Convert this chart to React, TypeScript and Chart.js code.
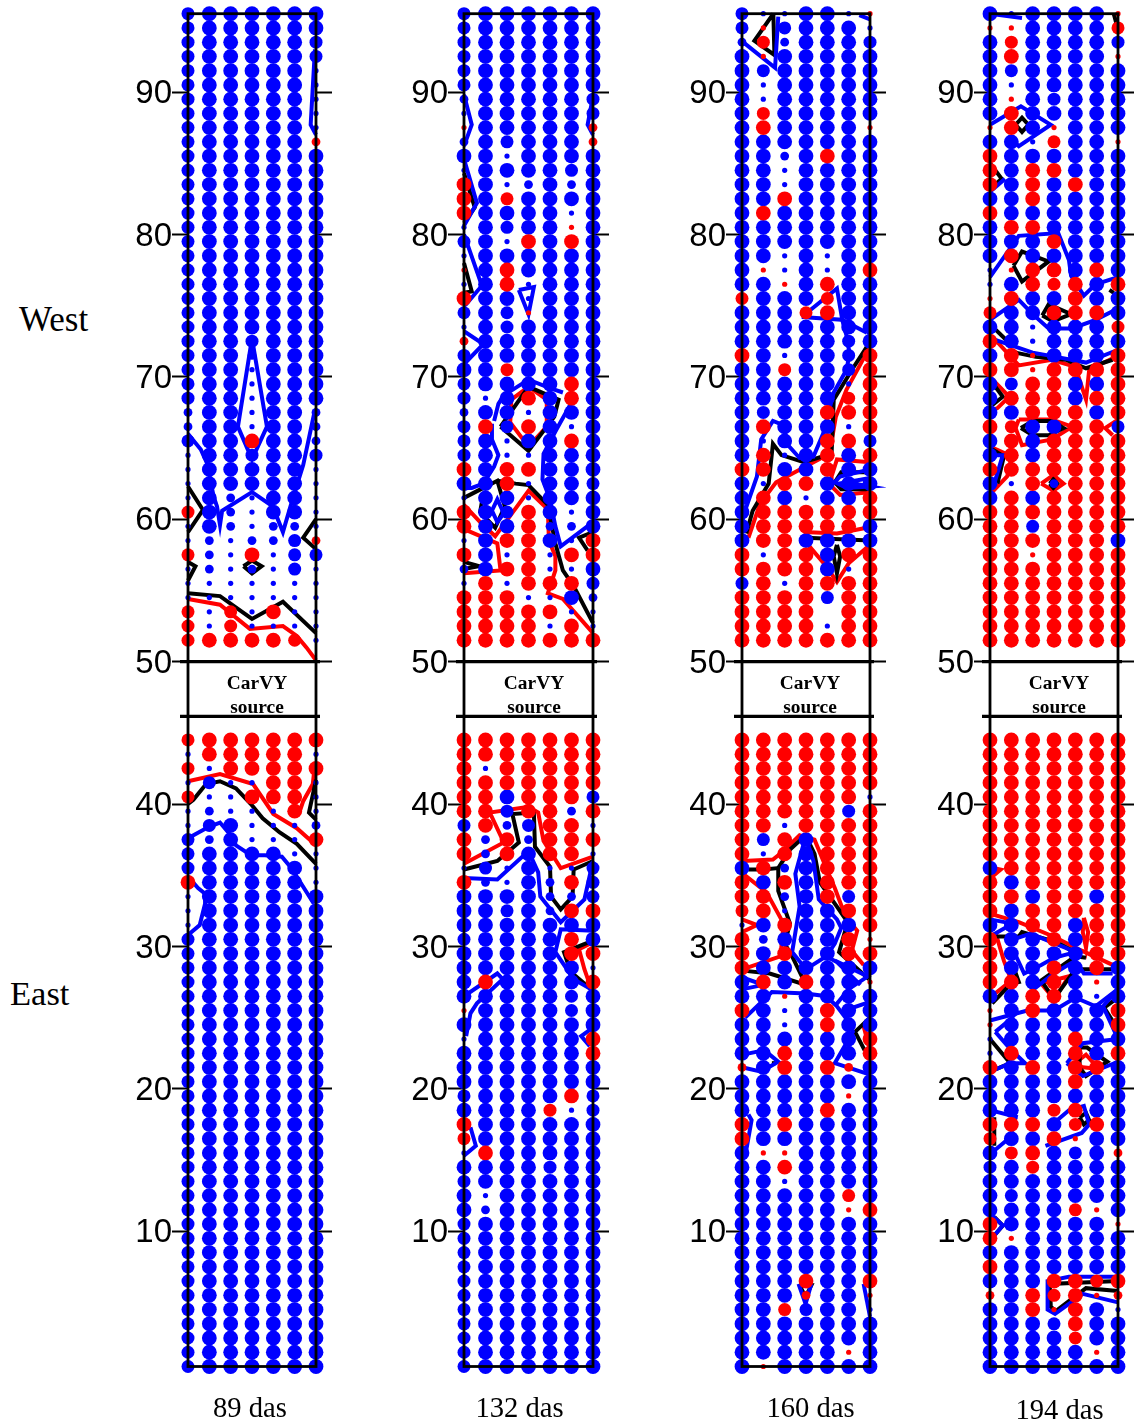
import React, { useEffect, useRef } from "react";
import { Chart, registerables } from "chart.js";

Chart.register(...registerables);

// Cell codes: a-d = blue (small to large), A-D = red (small to large), . = empty
const COLUMNS = [1, 2, 3, 4, 5, 6, 7];
const WEST_ROWS = Array.from({ length: 45 }, (_, i) => 95.5 - i);
const EAST_ROWS = Array.from({ length: 45 }, (_, i) => 44.5 - i);
const Y_TICKS = [10, 20, 30, 40, 50, 60, 70, 80, 90];
const SOURCE_LINES = [50, 46.15];

const P1_WEST = ["cdddddd","cdddddd","cdddddc","cdddddc","cddddda","cddddda","cddddda","cddddda","cddddda","cdddddB",
"cdddddd","cdddddd","cdddddd","cdddddd","cdddddd","cdddddd","cdddddd","cdddddd","cdddddd","cdddddd","cdddddd","cdddddd","cdddddd",
"cddcddd","cddbddd","cddaddd","cddaddd","cddaddd","bddaddb","bddaddb","cddDddb","addcddc","addddda","addddda","adbadda","Cdbadda","adbabba",
"ababbcB","CbaDacc","ababaca","aaaaaaa","aaaaaaa","CaCaDaa","CaCaaaa","CDDDDCa"];
const P1_EAST = ["CDDDDDD","aDDDDDa","CaDDDDD","acaaDDa","CaaDDDa","abaaaDa","acdaaab","cbdaaaD","cddddaa","cddddda","Dddddda","adddddd","adddddd","adddddd",
"cdddddd","cdddddd","cdddddd","cdddddd","cdddddd","cdddddd","cdddddd","cdddddd","cdddddd","cdddddd","cdddddd","cdddddd","cdddddd","cdddddd","cdddddd","cdddddd",
"cdddddd","cdddddd","cdddddd","cdddddd","cdddddd","cdddddd","cdddddd","cdddddd","cdddddd","cdddddd","cdddddd","cdddddd","cdddddd","cdddddd","cdddddd"];

const P2_WEST = ["cdddddd","cdddddd","cdddddd","cdddddd","cdddddd","cdddddd","bdddddc","adddddc","AdddddB","bdcdddB","ddadddd","addddcd","Ddabdbd","DdCdddd","Dddddad",
"adcddAd","cdaDdDd","adddddd","AdDdddd","adDaddd","Dddaddd","cdcAddd","adcdddd","Bdddddd","cdddddd","ddCdddd","cddddDd","cadDdDd","bddaddd","cDcDdad","cdaddDd","cdaaddd",
"DdDDddd","ddDaddc","addaddd","DdcDdad","DddDbbd","adDDdaD","DdaDaDD","bdDDaad","aDaDDDc","DDDaadb","DDDDDaa","DDDDaDa","DDDDDDD"];
const P2_EAST = ["DDDDDDD","DDDDDDD","DaDDDDD","DDDDDDD","DDdDDDc","DDcDDbD","cDbcDDa","DbDbDDD","DbDdDDa","acadaac","DbadbDc","ddddbbc","ddcdbDD","ddddddd","cddddDd","dddddDD",
"dddddda","dDddddD","dddddcd","Addddcd","ddddddd","adddddD","ddddddD","ddddddd","ddddddd","cddddDc","ddddCac","Ddddddd","Cdddddd","aDddddd","ddddcdd","cdddddd","daddddd","dbddddd",
"cdddddd","cdddddd","cdddddd","cdddddd","cdddddd","cdddddd","cdddddd","cdddddd","cdddddd","cdddddd","cdddddd"];

const P3_WEST = ["caaddaA","cAcddda","bCbdddc","dAddddd","dcddddd","daddddd","daddddd","dCddddd","dDddddA","ddddddd","ddbdDdd","ddadddd","ddadddd","ddDdddd","dDddddd","ddddddd","ddddddd",
"ddadadd","dAadadD","ddAdDdd","CdddCdd","dddCDdd","ddddddd","dddddcd","DdaddcD","ddCddcD","dddddaD","dddddCD","dcddDDD","dDdddaD","daddDDc","dDadDdD","DDddDdd","daDDddd","dDdaddD",
"dDDDDDD","dDDDDDd","dDDdddd","DaDDdDD","DDDDdaD","cDaDDDD","DDDDcDD","DDDD.DD","DDDDaDD","DDDDDDD"];
const P3_EAST = ["DDDDDDD","DDDDDDD","DDDDDDD","DDDDDDD","DDDDDDa","DDDDDcD","DDaDDDD","DcDdDDD","DaDdDDD","dDbdDDD","DdDdDDD","DDbdDcD","CDaddDD","adDdddD","DbdddDA","DdDddDD","Ddddddd",
"dDdDddA","ddAdddd","DdadDdd","ddadDdd","ddddddD","ddDdddD","BdDdDBd","ddddddd","dddddAd","ddddDdd","DdDdddd","Ddddddd","dAAdddd","ddDdddd","ddadddd","dddddCd","dddddAD","ddddddd",
"ddddddd","ddddddd","ddddddd","dddDddD","dddBddA","ddCcdda","ddddddd","ddddddd","dddddAd","dAddddd"];

const P4_WEST = ["daddddA","AAddddC","dCddddc","dDddddA","dcddddd","daddddd","dAdcddd","dDddddd","ADdAddd","ddaCddA","Ddddddd","DdDDddd","DdDdDdd","ddDdddd","Ddddddd","dDDdddd","dddDddd",
"dDddddd","aADDdDd","adDCDdD","ADddDdd","CddDDDd","ddadddC","Ddadddd","dDAdddD","DDADDDD","dcDDddD","dDDDdDD","ddDDDdD","DCddDDc","dDdDDDD","dDdDDDD","DDDDDDD","daDbDDD","dDdDDDD",
"DDDDDDD","DDcDDDD","DDDDDDd","DDADDDD","DDDDDDD","DDDDDDD","DDDDDDD","DDDDDDD","DDDDDDD","DDDDDDD"];
const P4_EAST = ["DDDDDDD","DDDDDDD","DDDDDDD","DDDDDDD","DDDDDDD","DDDDDDD","DDDDDDD","DDDDDDD","DDDDDDD","dDDDDDD","DdDDDDD","DDdDDdD","DdDDDDD","ddDDdDD","DddDdDD","DddddDD","DddDdDd",
"DDdDdAd","ddDDdad","AdDdddD","AdddddD","adddDdd","aDddDdD","DdDdDDd","ddddDdd","ddddddd","dddCDdd","DDDdCDd","CddDAdd","dCDdcdB","cdCdddd","ddddddd","dcddddd","ddddCAd","DdddddA",
"DAddddd","ddddddd","Ddddddd","dddDDCD","BdDCDAB","ddDADda","dddcDdd","ddddCdd","dddddAd","ddddddd"];

type Pt = [number, number];

const P1_BLUE: Pt[][] = [
  [[6.95,93],[6.75,87.7],[7,87]],
  [[4,72.7],[3.34,66.5],[4,64.2],[4.7,66.5],[4,72.7]],
  [[1,66],[1.6,64.9],[1.9,63.9],[2.2,61.6],[2.36,60.9],[2.5,59.6],[2.6,60.6],[4,61.9],[4.97,60.9],[5.45,59.1],[5.9,61.4],[6.4,63.8],[6.94,67.6]],
  [[1,37.6],[1.98,38.4],[2.5,38.7],[2.95,37.9],[3.25,37.1],[3.95,36.4],[4.6,36.4],[5.4,36.3],[5.85,35.5],[6.9,33]],
  [[1,34.9],[1.47,34.1],[1.8,33.7],[1.8,33],[1.55,31.5],[1,30.8]],
];
const P1_BLACK: Pt[][] = [
  [[1,62.3],[1.7,60.65],[1,59.1]],
  [[7,60],[6.4,58.7],[7,57.9]],
  [[1,57],[1.35,56.7],[1,55.7]],
  [[3.6,56.7],[4,57.1],[4.45,56.7],[4,56.2],[3.6,56.7]],
  [[1,54.8],[2.5,54.6],[4,53],[5.45,54.2],[7,52]],
  [[1,40],[1.25,40.3],[1.85,41.4],[2.5,41.6],[3.25,41.1],[3.95,40],[4.5,39],[5.3,38],[6.1,37.2],[7,35.8]],
  [[7,41.7],[6.67,39.4],[7,38.9]],
];
const P1_RED: Pt[][] = [
  [[1,54.4],[2.5,54],[3.9,52.3],[5.45,52.5],[6.1,51.8],[6.55,51],[7,50.1]],
  [[1,41.6],[2.5,42.1],[4.05,41.4],[5,39.3],[6.1,38.3],[7,37.1]],
  [[6.95,42.8],[6.85,41.4],[6.4,40.2],[6.2,39.3]],
];

const P2_BLUE: Pt[][] = [
  [[1,89.8],[1.36,87.7],[1,86.2]],
  [[1,85.3],[1.6,82.2],[1,80.6]],
  [[1,80],[1.83,76.4],[1.1,75.1],[1,75]],
  [[7,89.7],[6.75,87.7],[7,87]],
  [[3.55,76.1],[4.25,76.3],[4,74.4],[3.55,76.1]],
  [[1,73.2],[1.9,72.3],[1.2,71.2],[1,70.9]],
  [[2.4,66.9],[2.6,68.1],[2.85,68.7],[4,69.8],[5,69.2],[5.6,68.9]],
  [[6,68.2],[5.3,66.3],[4.7,64.6],[4.65,62.8],[5,61.4],[5.25,59.5],[5.5,58.1],[7,59.8]],
  [[1,62.2],[1.36,62.2],[1.9,62.5],[2.4,63.7],[2.6,64.5],[2.3,65.6],[2.3,66.7]],
  [[2.3,60.6],[2.55,61.4],[2.85,60.4],[2.55,59.8],[2.3,60.6]],
  [[1,34.8],[2.55,34.7],[4,36.7],[4.45,35.2],[4.55,33.5],[5.5,31.7],[6.6,33.3],[7,36]],
  [[7,31.1],[5.5,31.2],[5.25,29.6],[6.1,27.7],[6.9,27]],
  [[1,26.2],[1.1,26.6],[2.55,28.1],[2.8,27.7],[1.6,26],[1.3,25.3],[1.1,23.7]],
  [[7,24.3],[6.45,23.7],[6.85,23]],
  [[1.3,17.3],[1.55,16],[1,15.3]],
];
const P2_BLACK: Pt[][] = [
  [[1,61.5],[1.9,62.2],[2.55,62.7],[2.9,60.9],[2.45,59.4],[1.75,60.5],[1.9,61.8]],
  [[2.55,62.7],[3.4,62.5],[4,62.4],[4.9,61],[5.25,58.3],[5.6,56.4],[6.1,55.3],[7,52.7]],
  [[2.7,66.5],[4,69.3],[5.4,68.4],[5.2,67.2],[4,64.8],[2.7,66.5]],
  [[7,59.1],[6.35,58.7],[6.75,57.8]],
  [[1,57],[1.7,56.7],[1,56.5]],
  [[1,84.3],[1.5,81.9],[1,80.8]],
  [[1,78],[1.36,76],[1,75.9]],
  [[1,35.4],[2.55,36],[3.55,37.3],[3.25,39.3],[4.25,39.4],[4.3,37],[5,35.6],[5.05,33.5],[5.5,32.6],[6.05,33.5],[6.1,35.4],[7,36]],
  [[7,30.4],[5.65,29.6],[5.97,28.2],[6.9,27]],
];
const P2_RED: Pt[][] = [
  [[4,69.3],[3.2,68.4],[3.15,66.8],[4,65.1],[4.85,66.5],[4.85,68.4],[4,69.3]],
  [[1,61],[1.75,59.8],[2.45,58.8],[4,62],[4.9,60.7],[4.95,58.5],[5.25,57.4],[5.25,56.4],[4.9,54.8],[5.6,54.4],[7,52]],
  [[1,59.3],[2.55,58.3],[2.7,56.4],[1,56.2]],
  [[1,35.8],[2.85,37.3],[2.2,39.4],[4,39.8],[4.45,39.4],[4.7,37.4],[5.5,35.5],[7,36.3]],
  [[7,30.3],[6.35,29.8],[6.6,28.4],[6.9,27.1]],
];

const P3_BLUE: Pt[][] = [
  [[2.7,95.3],[2.55,91.7],[1.05,93.5]],
  [[6.5,95.4],[7,95.1]],
  [[3.8,74.2],[5.45,76.2],[5.7,74],[3.8,74.2]],
  [[5.7,74],[6.85,73.1]],
  [[5.7,74],[5.95,72.6]],
  [[1,59],[1.05,60.2],[1.7,63],[1.9,65.6],[2.45,66.9],[2.95,66.6],[3.1,65.3],[3.7,64.3],[4.35,64.4],[4.8,66],[5.3,68.9],[5.9,70.5],[6.05,71.7],[5.9,72.6]],
  [[7,63.5],[5.6,63],[5.35,62.6],[5.9,62.2],[7,62.3],[5.9,62.6],[7,62.9]],
  [[3.98,37.7],[3.5,35.1],[3.7,32.8],[3.35,29.6],[4,28.4],[4.95,29.3],[5.45,28.9],[6.55,27.3]],
  [[3.98,37.7],[4.35,36],[4.6,33.3],[5.45,31.9],[5.65,31.3],[5.35,30.2],[4.95,29.3]],
  [[1.05,27.8],[2,27.3],[1.05,27]],
  [[1.15,25],[2.4,26.8],[4,26.7],[4.95,26.5],[5.45,25.8],[6.05,24.6],[6.2,24],[5.35,21.8],[7,21]],
  [[7,26.1],[5.8,25.5]],
  [[5.35,29],[6.9,27.9],[6,27],[5.35,25.8]],
  [[1.05,22.4],[2,22.7],[2.3,22.4],[2.7,21.9],[1.9,21.2],[1.05,21.5]],
  [[1.3,18.2],[1.45,17.8],[1.2,15.7]],
  [[3.65,6.3],[3.98,4.9],[4.25,6.3]],
  [[6.7,6.3],[7,4]],
];
const P3_BLACK: Pt[][] = [
  [[2.47,95.5],[1.58,93.6],[2.52,92.6],[2.47,95.5]],
  [[1.2,59],[1.5,60.6],[2.25,62.5],[2.45,65.3],[2.85,64.5],[3.9,64],[5.2,64.6],[5.3,68.4],[6.2,70.6],[6.85,72.1]],
  [[7,63.3],[5.65,63.3],[5.35,62.6],[5.65,62.1],[7,62.1]],
  [[4,58.7],[7,58.5]],
  [[5.45,58.2],[5.3,57.4],[5.45,56.2],[5.6,57.4],[5.45,58.2]],
  [[1.3,35.4],[2,35.4],[2.7,35.5],[2.7,33.9],[3.25,31.6],[3,30.2],[3.35,29.3],[4,27.3],[2.3,28.1],[1.05,28.3]],
  [[2.7,35.5],[3.25,36.8],[3.98,37.8],[4.4,36.5],[4.65,34.5],[5.45,32.8],[5.95,31.7],[5.55,29.6],[6.95,27.7]],
  [[7,25],[6.3,24],[6.75,22.7]],
  [[2.4,21.8],[2.6,21.8]],
  [[3.7,6.2],[4.25,6.2],[3.98,5.4],[3.7,6.2]],
];
const P3_RED: Pt[][] = [
  [[1.3,58.7],[1.85,61.1],[2.6,62.6],[3.98,63.7],[5.1,64.6],[5.4,67.2],[5.9,69.1],[6.85,71.7]],
  [[7,64],[5.45,64.2],[5.2,63],[5.2,62.3],[5.6,61.7],[7,61.9]],
  [[3.9,59.1],[5.45,59],[6.85,59.4]],
  [[4.1,58.2],[4.95,56.7],[5.45,55.6],[6,56.9],[7,58.2]],
  [[1.05,36],[2.45,36.1],[2.95,36.7],[3.7,37.8],[4.4,37.5],[4.95,35.5],[5.35,34.1],[5.85,32.1],[6.4,31.1],[6.15,29.7],[6.7,28.7]],
  [[1.05,35.1],[2.15,33.8],[2.95,31.6],[2.8,29.3],[1.05,28.4]],
  [[1,31.9],[1.7,31.5],[1,31]],
  [[6.7,24.4],[7,22.7]],
];

const P4_BLUE: Pt[][] = [
  [[1,95.5],[2.5,95.2]],
  [[1,87.7],[2.45,89],[3.85,87.7],[2.35,86.2],[2,86.7]],
  [[1,83],[1.7,83.9]],
  [[1,77],[2.35,79.9],[4.2,80.1],[4.7,78.2],[4.8,77.1],[5.4,75.7],[5.95,76.5],[7,77]],
  [[1,74],[2.35,75.4],[3,74.4],[3.75,73.4],[4.85,73.4],[5.95,74],[7,74.8]],
  [[1.25,72.6],[3,71.7],[4.1,71.4],[5.5,71],[7,71.9]],
  [[1.1,64.5],[1.6,64.5],[1.2,62.5]],
  [[1,31.9],[2.05,31.6],[1,30.7]],
  [[2.3,30.6],[2.9,30.9],[4.55,29.9],[5,29.6]],
  [[2.1,29.7],[2.6,28.1],[3.4,28.7],[4,29.2],[5,29.6]],
  [[3.05,27],[4,28.1],[5,29],[5.4,28.1],[6.75,28.1]],
  [[1,24.8],[2.75,25.5],[4,25.5],[5,26.4],[5.95,25.8],[7,27]],
  [[7,27],[6.3,25.8],[7,23.5]],
  [[1.25,24],[2.05,25],[1.95,23.8],[1.65,23.2]],
  [[1.25,24],[1.95,22.8]],
  [[1,21.2],[1.95,21.8],[2.65,21.8],[1.95,22.8]],
  [[4.6,21.8],[5.35,23.2],[7,23.5]],
  [[4.6,21.8],[5.35,20.9],[7,21.9]],
  [[1,18.5],[2.3,18]],
  [[1,15.4],[1.95,16.6],[2.2,18]],
  [[3.6,16],[5.3,16.9],[5.65,17.5],[5.4,18.8],[4.7,18.5],[4,17.6]],
  [[1.1,11.1],[1.6,10.4],[1.2,9.7]],
  [[7,6.8],[4.7,6.8],[3.7,6.5],[3.7,4.5],[4.05,4.2],[5.35,5.6],[7,5]],
];
const P4_BLACK: Pt[][] = [
  [[6.8,95.5],[7,94.4]],
  [[2.2,87.7],[2.5,88.2],[2.8,87.7],[2.5,87.2],[2.2,87.7]],
  [[1,85],[1.55,83.9],[1,83.2]],
  [[2.1,77.8],[2.5,78.8],[3.75,78.1],[2.5,76.7],[2.1,77.8]],
  [[3.45,74.3],[3.75,75.1],[4.8,74.4],[3.95,73.9],[3.45,74.3]],
  [[1.2,73.4],[1.75,72.6]],
  [[6.6,76.1],[6.8,75.9]],
  [[2.2,71.7],[3.15,71.4],[4.55,71.2],[5.5,70.6],[6.75,71.2]],
  [[1,69.8],[1.6,68.6],[1.1,68]],
  [[2.45,66.4],[3,66.9],[3.9,66.9],[4.45,66.4],[3.75,65.9],[3,65.9],[2.45,66.4]],
  [[1,65],[1.65,64.4],[1.35,62.5]],
  [[3.8,62.5],[3.97,62.8],[4.15,62.5],[3.97,62.2],[3.8,62.5]],
  [[1.25,30.7],[2.35,30.7],[2.5,31],[4.1,30.3],[5,29.6]],
  [[1.1,26],[2,27.4],[2.35,27.5],[2,29]],
  [[5.5,29.2],[5,29.3],[3.4,27.6],[4,26.3],[5,28.4],[6.75,28.4]],
  [[7,26.4],[6.35,25.7],[6.9,24.4]],
  [[1,23.5],[1.95,21.8],[1,21.2]],
  [[5.2,22.9],[5.55,22.9],[6.5,21.9],[5.5,20.9],[5.2,21.5],[5.2,22.9]],
  [[1.2,18],[1.2,16]],
  [[5.2,18],[5.5,18.3],[5.65,17.8],[5.4,17.5],[5.2,18]],
  [[1.2,11],[1.6,10.4],[1.2,9.7]],
  [[7,6.5],[3.8,6.3],[3.85,4.7],[4.1,4.4],[5.5,6],[7,5.8]],
];
const P4_RED: Pt[][] = [
  [[1.25,72.6],[2.35,70.8],[3.9,71.2],[5,70.7],[5.5,68.4],[5.65,70.5],[6.9,71.4]],
  [[1,70],[1.9,68.6],[1.35,67.8],[1,67.6]],
  [[2.35,67],[3.9,67],[4.85,66.5],[3.9,65.6],[2.5,65.2],[2.2,66.4],[2.35,67]],
  [[7,67],[6.4,66.4],[6.75,65.9]],
  [[1,65.1],[1.75,64.6],[2,63.9],[1.8,63],[1.1,61.9]],
  [[3.4,62.5],[3.97,63.1],[4.45,62.5],[3.97,62],[3.4,62.5]],
  [[1,32.3],[2.35,31.7],[3.97,30.7],[5.3,29.7],[6.9,28.6]],
  [[1.2,35.5],[1.5,35.4],[1.1,34.9]],
  [[5.4,32],[5.35,31],[5.5,29.9],[5.6,31],[5.4,32]],
  [[3.4,27.4],[4,26.3],[4.7,27.9],[3.4,27.4]],
  [[1.25,31],[1.65,29],[2,27.6],[1.25,26.7]],
  [[4.8,21.6],[5.5,22.4],[6.1,21.4],[4.8,21.6]],
];

const RADIUS: Record<string, number> = { a: 2.6, b: 4.4, c: 6.5, d: 7.4 };
const BLUE = "#0000ff";
const RED = "#ff0000";
const BLACK = "#000000";

const PANELS = [
  { west: P1_WEST, east: P1_EAST, blue: P1_BLUE, black: P1_BLACK, red: P1_RED, x0: 188, x1: 316, label: "89 das", labelX: 250, labelBase: 1418, srcX: 257 },
  { west: P2_WEST, east: P2_EAST, blue: P2_BLUE, black: P2_BLACK, red: P2_RED, x0: 464, x1: 593, label: "132 das", labelX: 519.5, labelBase: 1418, srcX: 534 },
  { west: P3_WEST, east: P3_EAST, blue: P3_BLUE, black: P3_BLACK, red: P3_RED, x0: 742, x1: 870, label: "160 das", labelX: 810.5, labelBase: 1418, srcX: 810 },
  { west: P4_WEST, east: P4_EAST, blue: P4_BLUE, black: P4_BLACK, red: P4_RED, x0: 990, x1: 1118, label: "194 das", labelX: 1059.5, labelBase: 1420, srcX: 1059 },
];

const LEFT_AXIS = 58;
const RIGHT_AXIS = 16;
const TOP_PAD = 13.7;
const BOTTOM_PAD = 58.5;
const HEIGHT = 1425;
const LABEL_NUDGE = 2;

function cells(rows: string[], ys: number[]) {
  const blue: { x: number; y: number; r: number }[] = [];
  const red: { x: number; y: number; r: number }[] = [];
  rows.forEach((row, i) => {
    COLUMNS.forEach((x, j) => {
      const ch = row[j];
      if (!ch || ch === ".") return;
      const key = ch.toLowerCase();
      (ch === key ? blue : red).push({ x, y: ys[i], r: RADIUS[key] });
    });
  });
  return { blue, red };
}

function lineSets(lines: Pt[][], color: string, order: number) {
  return lines.map((pts) => ({
    type: "scatter" as const,
    showLine: true,
    data: pts.map(([x, y]) => ({ x, y })),
    borderColor: color,
    backgroundColor: color,
    borderWidth: 4,
    borderJoinStyle: "miter" as const,
    tension: 0,
    pointRadius: 0,
    clip: false as const,
    order,
  }));
}

const framePlugin = {
  id: "frame",
  beforeDraw(chart: any) {
    // The reference's digits sit slightly lower than a "middle" baseline.
    chart.scales.y.getLabelItems().forEach((item: any) => {
      if (!item.nudged) {
        item.textOffset += LABEL_NUDGE;
        item.nudged = true;
      }
    });
  },
  afterDatasetsDraw(chart: any) {
    const { ctx, chartArea: a, scales } = chart;
    ctx.save();
    ctx.strokeStyle = BLACK;
    ctx.lineWidth = 2.8;
    ctx.strokeRect(a.left, a.top, a.right - a.left, a.bottom - a.top);
    ctx.lineWidth = 3.2;
    SOURCE_LINES.forEach((v) => {
      const y = scales.y.getPixelForValue(v);
      ctx.beginPath();
      ctx.moveTo(a.left - 8, y);
      ctx.lineTo(a.right + 4, y);
      ctx.stroke();
    });
    ctx.restore();
  },
};

function yAxis(position: "left" | "right", width: number, showLabels: boolean) {
  return {
    type: "linear" as const,
    axis: "y",
    position,
    min: 0.5,
    max: 95.5,
    afterBuildTicks: (s: any) => {
      s.ticks = Y_TICKS.map((value) => ({ value }));
    },
    afterFit: (s: any) => {
      s.width = width;
      s.paddingTop = 0;
      s.paddingBottom = 0;
    },
    border: { display: false },
    grid: { drawOnChartArea: false, drawTicks: true, tickLength: 16, tickWidth: 2, tickColor: BLACK },
    ticks: {
      display: showLabels,
      padding: 0,
      color: BLACK,
      autoSkip: false,
      maxRotation: 0,
      font: { family: "'Liberation Sans', Arial, sans-serif", size: 33 },
      callback: (v: any) => String(v),
    },
  };
}

function Panel({ panel }: { panel: (typeof PANELS)[number] }) {
  const ref = useRef<HTMLCanvasElement>(null);
  useEffect(() => {
    const west = cells(panel.west, WEST_ROWS);
    const east = cells(panel.east, EAST_ROWS);
    const blue = [...west.blue, ...east.blue];
    const red = [...west.red, ...east.red];
    const dots = (data: typeof blue, color: string, order: number) => ({
      type: "scatter" as const,
      data: data.map(({ x, y }) => ({ x, y })),
      pointRadius: data.map((d) => d.r),
      pointBackgroundColor: color,
      pointBorderWidth: 0,
      showLine: false,
      clip: false as const,
      order,
    });
    const chart = new Chart(ref.current as HTMLCanvasElement, {
      type: "scatter",
      data: {
        datasets: [
          dots(red, RED, 1),
          dots(blue, BLUE, 2),
          ...lineSets(panel.blue, BLUE, 3),
          ...lineSets(panel.black, BLACK, 4),
          ...lineSets(panel.red, RED, 5),
        ] as any,
      },
      options: {
        responsive: false,
        animation: false,
        devicePixelRatio: 1,
        layout: { autoPadding: false, padding: { top: TOP_PAD, bottom: BOTTOM_PAD, left: 0, right: 0 } },
        plugins: { legend: { display: false }, tooltip: { enabled: false }, title: { display: false } },
        scales: {
          x: { type: "linear", min: 1, max: 7, display: false },
          y: yAxis("left", LEFT_AXIS, true),
          y2: yAxis("right", RIGHT_AXIS, false),
        } as any,
      },
      plugins: [framePlugin],
    });
    return () => chart.destroy();
  }, [panel]);
  return (
    <canvas
      ref={ref}
      width={panel.x1 - panel.x0 + LEFT_AXIS + RIGHT_AXIS}
      height={HEIGHT}
      style={{ position: "absolute", left: panel.x0 - LEFT_AXIS, top: 0, display: "block" }}
    />
  );
}

const SERIF = "'Liberation Serif', 'Times New Roman', serif";

function Text({ children, cx, left, base, size, bold }: { children: string; cx?: number; left?: number; base: number; size: number; bold?: boolean }) {
  const style: React.CSSProperties = {
    position: "absolute",
    top: base - 0.8375 * size,
    fontFamily: SERIF,
    fontSize: size,
    lineHeight: 1,
    fontWeight: bold ? 700 : 400,
    color: "#000",
    whiteSpace: "nowrap",
  };
  if (cx !== undefined) {
    style.left = cx - 100;
    style.width = 200;
    style.textAlign = "center";
  } else {
    style.left = left;
  }
  return <div style={style}>{children}</div>;
}

export default function App() {
  return (
    <div style={{ position: "absolute", left: 0, top: 0, width: 1134, height: 1425, overflow: "hidden", background: "#fff" }}>
      {PANELS.map((p) => (
        <Panel key={p.label} panel={p} />
      ))}
      {PANELS.map((p) => (
        <React.Fragment key={p.label}>
          <Text cx={p.srcX} base={689} size={19.4} bold>CarVY</Text>
          <Text cx={p.srcX} base={713} size={19.4} bold>source</Text>
          <Text cx={p.labelX} base={p.labelBase} size={28.6}>{p.label}</Text>
        </React.Fragment>
      ))}
      <Text left={19} base={331} size={35}>West</Text>
      <Text left={10} base={1005} size={34.5}>East</Text>
    </div>
  );
}
